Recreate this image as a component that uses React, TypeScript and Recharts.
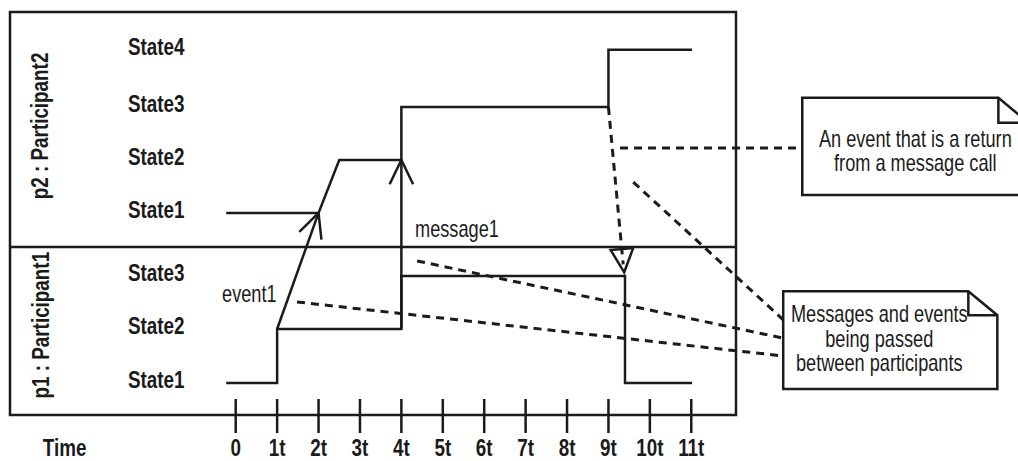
import React from "react";
import {
  LineChart,
  Line,
  XAxis,
  YAxis,
  ReferenceLine,
  ReferenceArea,
  ReferenceDot,
} from "recharts";

const FONT = "'Liberation Sans', Arial, sans-serif";
const INK = "#1b1b1b";

// time axis
const timeTicks = [0, 1, 2, 3, 4, 5, 6, 7, 8, 9, 10, 11];
const timeLabels = ["0", "1t", "2t", "3t", "4t", "5t", "6t", "7t", "8t", "9t", "10t", "11t"];

// state rows, placed on one shared vertical scale
const p1States = ["State1", "State2", "State3"];
const p1Levels = [0, 1, 1.98];
const p2States = ["State1", "State2", "State3", "State4"];
const p2Levels = [3.15, 4.13, 5.11, 6.17];

// lifelines (time, state)
const p1Times = [-0.23, 1, 1, 4, 4, 9.4, 9.4, 11.02];
const p1Path = ["State1", "State1", "State2", "State2", "State3", "State3", "State1", "State1"];
const p2Times = [-0.23, 2, 2.5, 4, 4, 9, 9, 11.02];
const p2Path = ["State1", "State1", "State2", "State2", "State3", "State3", "State4", "State4"];

// messages between the lifelines: [time, level]
const messageFrom = [[1, 1], [4, 1], [9, 5.11]];
const messageTo = [[2, 3.15], [4, 4.13], [9.38, 2.05]];
const messageKind = ["call", "call", "return"];

// dashed callouts to the notes
const calloutFrom = [[9.28, 4.35], [9.6, 3.72], [4.38, 2.26], [1.48, 1.5]];
const calloutTo = [[13.68, 4.35], [13.22, 1.17], [13.22, 0.83], [13.22, 0.5]];

const note1Lines = ["An event that is a return", "from a message call"];
const note2Lines = ["Messages and events", "being passed", "between participants"];

const X_DOMAIN: [number, number] = [-5.45, 12.08];
const Y_DOMAIN: [number, number] = [-0.593, 6.87];

const stateTicks = [...p1Levels, ...p2Levels];
const stateTickLabels = [...p1States, ...p2States];

const p1Data = p1Times.map((t, i) => ({ t, v: p1Levels[p1States.indexOf(p1Path[i])] }));
const p2Data = p2Times.map((t, i) => ({ t, v: p2Levels[p2States.indexOf(p2Path[i])] }));

// condensed look: squeeze a regular sans horizontally
const NText = ({ x, y, anchor = "start", bold = false, rotate = 0, children }: any) => (
  <text
    transform={`translate(${x} ${y}) rotate(${rotate}) scale(${bold ? 0.82 : 0.79} 1)`}
    textAnchor={anchor}
    fontFamily={FONT}
    fontSize={23}
    fontWeight={bold ? 700 : 400}
    fill={INK}
  >
    {children}
  </text>
);

const StateTick = (props: any) => {
  const { y, payload } = props;
  const i = stateTicks.findIndex((v) => Math.abs(v - payload.value) < 1e-6);
  return (
    <NText x={128} y={y + 5} bold>
      {stateTickLabels[i]}
    </NText>
  );
};

const TimeTick = (props: any) => {
  const { x, y, payload } = props;
  const i = timeTicks.indexOf(payload.value);
  return (
    <g>
      <line x1={x} x2={x} y1={y - 16} y2={y + 18} stroke={INK} strokeWidth={2.5} />
      <NText x={x} y={y + 41} anchor="middle" bold>
        {timeLabels[i]}
      </NText>
    </g>
  );
};

// arrow head wings, pointing back along the segment
const wings = (x1: number, y1: number, x2: number, y2: number, len: number, spread: number) => {
  const a = Math.atan2(y1 - y2, x1 - x2);
  return [
    [x2 + len * Math.cos(a + spread), y2 + len * Math.sin(a + spread)],
    [x2 + len * Math.cos(a - spread), y2 + len * Math.sin(a - spread)],
  ];
};

const messageShape = (kind: string) => (p: any) => {
  const { x1, y1, x2, y2 } = p;
  if (kind === "return") {
    const [w1, w2] = wings(x1, y1, x2, y2, 26, 0.45);
    return (
      <g>
        <line x1={x1} y1={y1} x2={x2 - 1} y2={y2 - 8} stroke={INK} strokeWidth={3} strokeDasharray="8 6" />
        <polygon
          points={`${w1[0]},${w1[1]} ${x2},${y2} ${w2[0]},${w2[1]}`}
          fill="none"
          stroke={INK}
          strokeWidth={2.5}
        />
      </g>
    );
  }
  const [w1, w2] = wings(x1, y1, x2, y2, 27, 0.45);
  return (
    <g>
      <line x1={x1} y1={y1} x2={x2} y2={y2} stroke={INK} strokeWidth={2.5} />
      <polyline
        points={`${w1[0]},${w1[1]} ${x2},${y2} ${w2[0]},${w2[1]}`}
        fill="none"
        stroke={INK}
        strokeWidth={2.5}
      />
    </g>
  );
};

const noteShape = (lines: string[], firstLine: number, shiftX: number, fold: number[]) => (p: any) => {
  const { x, y, width, height } = p;
  const [fw, fh] = fold;
  const outline = `M${x},${y} L${x + width - fw},${y} L${x + width},${y + fh} L${x + width},${y + height} L${x},${y + height} Z`;
  const corner = `M${x + width - fw},${y} L${x + width - fw},${y + fh} L${x + width},${y + fh}`;
  return (
    <g>
      <path d={outline} fill="#fff" stroke={INK} strokeWidth={2.5} />
      <path d={corner} fill="none" stroke={INK} strokeWidth={2.5} />
      {lines.map((s, i) => (
        <NText key={s} x={x + width / 2 + shiftX} y={y + firstLine + i * 24.5} anchor="middle">
          {s}
        </NText>
      ))}
    </g>
  );
};

const textShape = (value: string, opts: any) => (p: any) => (
  <NText x={p.cx} y={p.cy} {...opts}>
    {value}
  </NText>
);

export default function App() {
  return (
    <div style={{ position: "absolute", left: 0, top: 0, background: "#fff" }}>
      <LineChart width={1018} height={461} margin={{ top: 12, right: 282, bottom: 0, left: 10 }}>
        <XAxis
          dataKey="t"
          type="number"
          domain={X_DOMAIN}
          allowDataOverflow
          ticks={timeTicks}
          interval={0}
          tickSize={0}
          tickMargin={0}
          axisLine={false}
          tickLine={false}
          height={46}
          tick={<TimeTick />}
        />
        <YAxis
          type="number"
          domain={Y_DOMAIN}
          allowDataOverflow
          ticks={stateTicks}
          interval={0}
          mirror
          axisLine={false}
          tickLine={false}
          tick={<StateTick />}
        />

        {/* frame and participant divider */}
        <ReferenceArea
          x1={X_DOMAIN[0]}
          x2={X_DOMAIN[1]}
          y1={Y_DOMAIN[0]}
          y2={Y_DOMAIN[1]}
          fill="none"
          fillOpacity={0}
          stroke={INK}
          strokeWidth={2.5}
          ifOverflow="visible"
        />
        <ReferenceLine y={2.52} stroke={INK} strokeWidth={2.5} ifOverflow="visible" />

        <Line data={p1Data} dataKey="v" type="linear" stroke={INK} strokeWidth={2.5} dot={false} isAnimationActive={false} />
        <Line data={p2Data} dataKey="v" type="linear" stroke={INK} strokeWidth={2.5} dot={false} isAnimationActive={false} />

        {messageFrom.map((f, i) => (
          <ReferenceLine
            key={`m${i}`}
            segment={[{ x: f[0], y: f[1] }, { x: messageTo[i][0], y: messageTo[i][1] }]}
            ifOverflow="visible"
            shape={messageShape(messageKind[i])}
          />
        ))}

        {calloutFrom.map((f, i) => (
          <ReferenceLine
            key={`c${i}`}
            segment={[{ x: f[0], y: f[1] }, { x: calloutTo[i][0], y: calloutTo[i][1] }]}
            ifOverflow="visible"
            stroke={INK}
            strokeWidth={3}
            strokeDasharray="8 6"
          />
        ))}

        <ReferenceArea
          x1={13.68}
          x2={19.14}
          y1={3.48}
          y2={5.28}
          ifOverflow="visible"
          shape={noteShape(note1Lines, 49, 0, [30, 25])}
        />
        <ReferenceArea
          x1={13.22}
          x2={18.39}
          y1={-0.11}
          y2={1.7}
          ifOverflow="visible"
          shape={noteShape(note2Lines, 31, -11, [29, 24])}
        />

        <ReferenceDot x={-0.33} y={1.5} ifOverflow="visible" shape={textShape("event1", {})} />
        <ReferenceDot x={4.33} y={2.71} ifOverflow="visible" shape={textShape("message1", {})} />
        <ReferenceDot
          x={-4.53}
          y={4.76}
          ifOverflow="visible"
          shape={textShape("p2 : Participant2", { anchor: "middle", bold: true, rotate: -90 })}
        />
        <ReferenceDot
          x={-4.51}
          y={1.07}
          ifOverflow="visible"
          shape={textShape("p1 : Participant1", { anchor: "middle", bold: true, rotate: -90 })}
        />
        <ReferenceDot
          x={-4.13}
          y={-1.35}
          ifOverflow="visible"
          shape={textShape("Time", { anchor: "middle", bold: true })}
        />
      </LineChart>
    </div>
  );
}
